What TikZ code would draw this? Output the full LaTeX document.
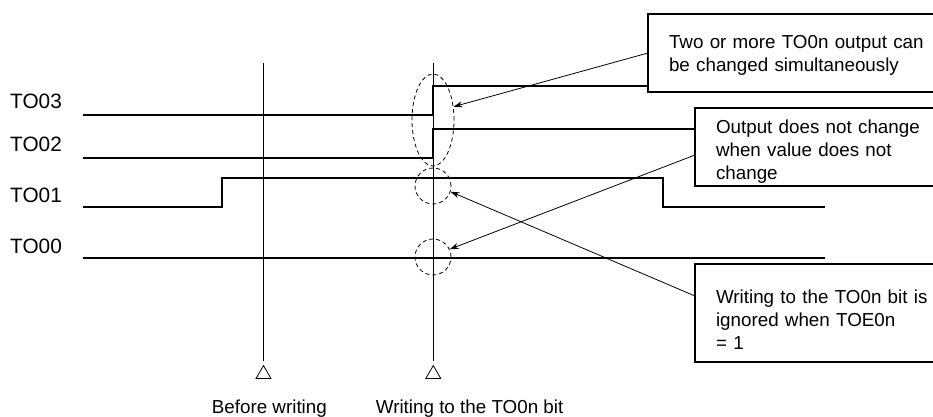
\documentclass[tikz,border=0pt]{standalone}
\usepackage{fontspec}
\setmainfont{Liberation Sans}
\usetikzlibrary{arrows.meta,positioning,shapes.geometric}

\begin{document}
\begin{tikzpicture}[x=1pt, y=-1pt, sharp corners,
     sig/.style={line width=2pt},
     guide/.style={line width=0.8pt},
     note/.style={draw, line width=2.5pt, anchor=north west, outer sep=0pt, text width=#1,
       align=left, inner xsep=21pt, inner ysep=0pt, font=\fontsize{18.8}{23}\selectfont},
     ring/.style={draw, line width=0.8pt, dash pattern=on 4pt off 3pt, inner sep=0pt},
     tri/.style={draw, regular polygon, regular polygon sides=3, minimum size=17.3pt,
       inner sep=0pt, line width=0.8pt},
     sname/.style={anchor=west, inner sep=0pt, font=\fontsize{20.8}{24}\selectfont},
     tlbl/.style={anchor=base west, inner sep=0pt, font=\fontsize{18.8}{23}\selectfont},
     ptr/.style={-{Stealth[length=9pt, width=6pt]}, line width=0.8pt}]
   \clip (0,0) rectangle (933,416);
   \node[note=280pt, minimum height=78pt, text height=18pt] (n1) at (648,14)
     {Two or more TO0n output can\\be changed simultaneously};
   \node[note=240pt, minimum height=78pt, text height=23pt] (n2) at (695,108)
     {Output does not change\\when value does not\\change};
   \node[note=240pt, minimum height=98pt, text height=27pt] (n3) at (695,264)
     {Writing to the TO0n bit is\\ignored when TOE0n\\= 1};
   \node[sname] (l3) at (10,101) {TO03};
   \node[sname] (l2) at (10,144) {TO02};
   \node[sname] (l1) at (10,195) {TO01};
   \node[sname] (l0) at (10,246) {TO00};
   \draw[sig] (83,114.5) -- (433,114.5) -- (433,85.5) -- (648,85.5);
   \draw[sig] (83,158) -- (433,158) -- (433,129) -- (695,129);
   \draw[sig] (83,207) -- (222,207) -- (222,178) -- (663,178) -- (663,207) -- (825,207);
   \draw[sig] (83,257.5) -- (825,257.5);
   \node[tri] (w1) at (263.5,374.2) {};
   \node[tri] (w2) at (433.3,374.2) {};
   \coordinate (top1) at (263.5,63);
   \coordinate (top2) at (433.3,63);
   \draw[guide, shorten >=4pt] (top1) -- (w1.north);
   \draw[guide, shorten >=4pt] (top2) -- (w2.north);
   \node[ring, ellipse, minimum width=42pt, minimum height=92pt] (e32) at (433,120) {};
   \node[ring, circle, minimum size=36pt] (c1) at (433,186) {};
   \node[ring, circle, minimum size=36pt] (c0) at (433,257) {};
   \draw[ptr] (n1.west) -- (e32.33);
   \draw[ptr] ([yshift=-8pt]n2.west) -- (c0.25);
   \draw[ptr] ([yshift=17pt]n3.west) -- (c1.-18);
   \node[tlbl] (b1) at (211.7,413.5) {Before writing};
   \node[tlbl] (b2) at (375.7,413.5) {Writing to the TO0n bit};
  \end{tikzpicture}
\end{document}
